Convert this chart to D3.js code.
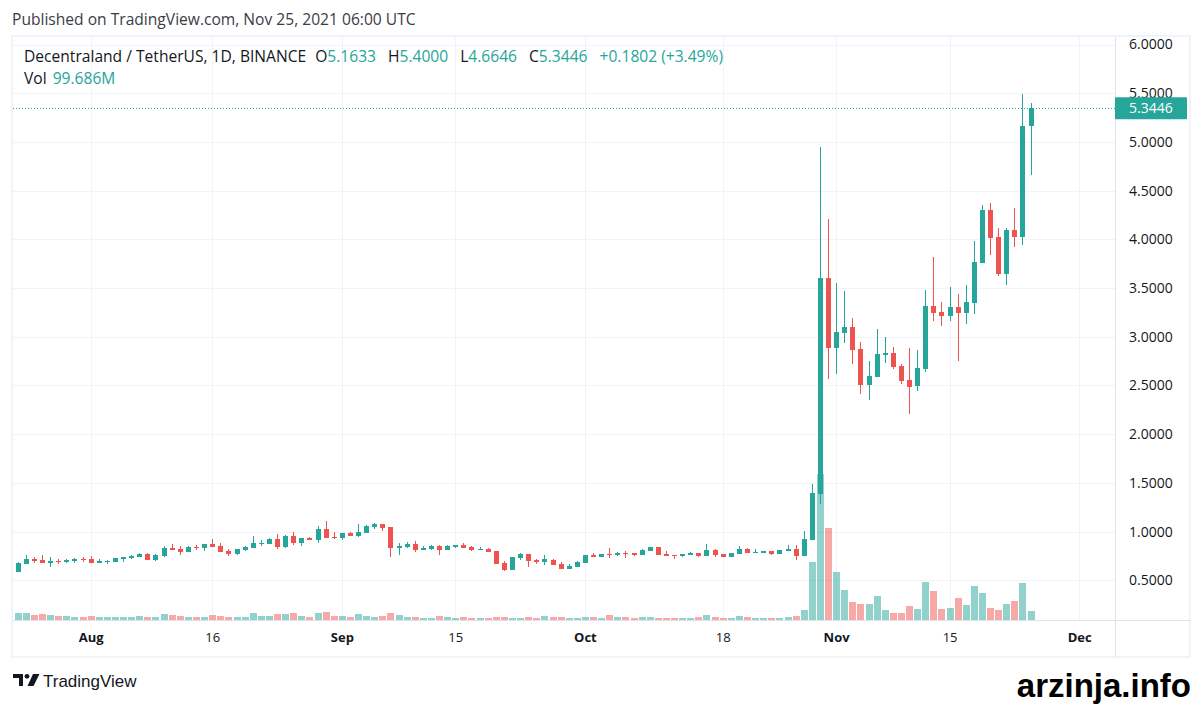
<!DOCTYPE html>
<html>
<head>
<meta charset="UTF-8">
<title>MANAUSDT 1D</title>
<script src="https://d3js.org/d3.v7.min.js"></script>
<style>
  body { margin: 0; background: #fff; }
  svg text { font-family: "Open Sans", "Liberation Sans", Arial, sans-serif; }
  svg text.arial { font-family: "Liberation Sans", Arial, sans-serif; }
</style>
</head>
<body>
<div class="canvas"></div>
<script>
  // daily candles, Binance MANA/USDT, from Jul 23 to Nov 25 2021
  const firstDay = '2021-07-23'
  const opens = [
    0.588, 0.670, 0.718, 0.707, 0.680, 0.700, 0.687, 0.697, 0.714, 0.718,
    0.680, 0.687, 0.690, 0.718, 0.728, 0.738, 0.769, 0.707, 0.748, 0.830,
    0.820, 0.790, 0.840, 0.830, 0.871, 0.850, 0.800, 0.769, 0.810, 0.830,
    0.871, 0.871, 0.920, 0.840, 0.952, 0.880, 0.932, 0.910, 1.024, 0.942,
    0.932, 0.983, 0.952, 0.983, 1.044, 1.075, 1.044, 0.830, 0.840, 0.871,
    0.810, 0.820, 0.850, 0.810, 0.840, 0.860, 0.840, 0.810, 0.820, 0.800,
    0.677, 0.605, 0.728, 0.769, 0.707, 0.687, 0.707, 0.667, 0.616, 0.636,
    0.677, 0.758, 0.738, 0.769, 0.758, 0.780, 0.779, 0.758, 0.800, 0.840,
    0.769, 0.758, 0.748, 0.758, 0.779, 0.748, 0.810, 0.769, 0.738, 0.769,
    0.820, 0.779, 0.779, 0.800, 0.769, 0.800, 0.826, 0.754, 0.918, 1.389,
    3.601, 2.884, 3.038, 3.099, 2.874, 2.505, 2.587, 2.812, 2.833, 2.700,
    2.556, 2.495, 2.669, 3.314, 3.253, 3.212, 3.304, 3.242, 3.345, 3.754,
    4.297, 4.020, 3.642, 4.092, 4.024, 5.1633
  ]
  const highs = [
    0.690, 0.758, 0.738, 0.758, 0.738, 0.720, 0.718, 0.730, 0.738, 0.748,
    0.718, 0.707, 0.728, 0.738, 0.758, 0.779, 0.779, 0.769, 0.850, 0.871,
    0.850, 0.850, 0.860, 0.871, 0.920, 0.880, 0.820, 0.820, 0.850, 0.952,
    0.910, 0.932, 0.973, 0.963, 0.993, 0.932, 0.942, 1.054, 1.105, 0.993,
    0.983, 0.993, 1.075, 1.065, 1.085, 1.075, 1.044, 0.880, 0.891, 0.900,
    0.850, 0.860, 0.860, 0.860, 0.860, 0.880, 0.850, 0.840, 0.830, 0.800,
    0.697, 0.738, 0.779, 0.769, 0.718, 0.758, 0.718, 0.687, 0.667, 0.697,
    0.758, 0.779, 0.769, 0.830, 0.790, 0.800, 0.779, 0.820, 0.840, 0.840,
    0.800, 0.758, 0.769, 0.790, 0.779, 0.871, 0.820, 0.769, 0.779, 0.850,
    0.830, 0.820, 0.800, 0.800, 0.810, 0.860, 0.867, 1.010, 1.491, 4.952,
    4.205, 3.549, 3.468, 3.191, 2.945, 2.751, 3.078, 2.997, 2.894, 2.720,
    2.884, 2.863, 3.478, 3.816, 3.355, 3.509, 3.437, 3.529, 3.980, 4.348,
    4.369, 4.113, 4.113, 4.317, 5.490, 5.4000
  ]
  const lows = [
    0.585, 0.670, 0.680, 0.680, 0.640, 0.670, 0.677, 0.677, 0.687, 0.677,
    0.677, 0.670, 0.690, 0.687, 0.718, 0.738, 0.707, 0.697, 0.738, 0.810,
    0.758, 0.790, 0.810, 0.800, 0.840, 0.790, 0.748, 0.758, 0.800, 0.830,
    0.850, 0.871, 0.820, 0.830, 0.860, 0.850, 0.910, 0.880, 0.932, 0.920,
    0.910, 0.952, 0.942, 0.983, 1.024, 1.003, 0.738, 0.758, 0.830, 0.790,
    0.810, 0.810, 0.758, 0.810, 0.830, 0.830, 0.800, 0.810, 0.790, 0.667,
    0.595, 0.605, 0.707, 0.636, 0.667, 0.656, 0.656, 0.616, 0.616, 0.636,
    0.677, 0.738, 0.738, 0.728, 0.748, 0.728, 0.748, 0.758, 0.800, 0.758,
    0.748, 0.718, 0.738, 0.758, 0.738, 0.748, 0.738, 0.738, 0.738, 0.769,
    0.779, 0.779, 0.779, 0.758, 0.769, 0.800, 0.713, 0.754, 0.918, 1.287,
    2.567, 2.618, 2.935, 2.720, 2.413, 2.352, 2.587, 2.730, 2.669, 2.515,
    2.208, 2.444, 2.638, 3.160, 3.109, 3.160, 2.751, 3.130, 3.232, 3.754,
    3.836, 3.621, 3.529, 3.918, 3.942, 4.6646
  ]
  const closes = [
    0.680, 0.718, 0.697, 0.680, 0.697, 0.690, 0.707, 0.718, 0.704, 0.677,
    0.697, 0.697, 0.728, 0.738, 0.748, 0.769, 0.707, 0.758, 0.830, 0.810,
    0.790, 0.840, 0.830, 0.871, 0.840, 0.790, 0.769, 0.820, 0.840, 0.880,
    0.880, 0.920, 0.840, 0.952, 0.880, 0.932, 0.910, 1.024, 0.932, 0.932,
    0.983, 0.952, 0.993, 1.054, 1.075, 1.034, 0.830, 0.850, 0.871, 0.810,
    0.830, 0.850, 0.810, 0.850, 0.860, 0.830, 0.810, 0.820, 0.790, 0.667,
    0.605, 0.738, 0.769, 0.697, 0.687, 0.718, 0.656, 0.616, 0.646, 0.687,
    0.758, 0.738, 0.769, 0.758, 0.779, 0.772, 0.758, 0.810, 0.840, 0.758,
    0.748, 0.748, 0.769, 0.779, 0.748, 0.810, 0.758, 0.738, 0.779, 0.820,
    0.779, 0.790, 0.800, 0.769, 0.810, 0.820, 0.754, 0.928, 1.399, 3.601,
    2.884, 3.048, 3.099, 2.863, 2.505, 2.597, 2.823, 2.833, 2.689, 2.546,
    2.485, 2.679, 3.314, 3.242, 3.212, 3.304, 3.242, 3.355, 3.765, 4.297,
    4.010, 3.642, 4.092, 4.020, 5.1644, 5.3446
  ]
  // volume in millions of MANA
  const volumes = [
    78, 78, 55, 66, 55, 44, 44, 33, 33, 44,
    33, 33, 33, 33, 33, 44, 33, 33, 66, 55,
    44, 33, 33, 33, 55, 44, 33, 33, 33, 78,
    44, 44, 66, 66, 78, 44, 33, 78, 89, 44,
    44, 33, 66, 44, 33, 44, 78, 55, 33, 33,
    22, 22, 44, 33, 22, 33, 22, 22, 22, 33,
    33, 22, 22, 33, 22, 44, 33, 33, 22, 22,
    33, 33, 22, 55, 33, 33, 22, 33, 33, 22,
    22, 22, 22, 22, 33, 55, 33, 22, 22, 44,
    33, 22, 22, 22, 22, 33, 44, 111, 643, 1618,
    1019, 532, 332, 199, 177, 177, 266, 111, 78, 78,
    155, 122, 421, 321, 122, 133, 244, 166, 377, 299,
    133, 111, 177, 211, 410, 99.686
  ]
  const tickDates = ['2021-08-01', '2021-08-16', '2021-09-01', '2021-09-15', '2021-10-01',
    '2021-10-18', '2021-11-01', '2021-11-15', '2021-12-01']
  const tickLabels = ['Aug', '16', 'Sep', '15', 'Oct', '18', 'Nov', '15', 'Dec']
  const priceTicks = [0.5, 1.0, 1.5, 2.0, 2.5, 3.0, 3.5, 4.0, 4.5, 5.0, 5.5, 6.0]

  const up = '#26a69a', down = '#ef5350'
  const upVol = 'rgba(38,166,154,0.5)', downVol = 'rgba(239,83,80,0.5)'
  const grid = '#f0f3fa', border = '#e0e3eb', ink = '#131722'

  const pane = { left: 13, right: 1115, top: 37, bottom: 620 }
  const frameRight = 1190, frameBottom = 657

  const days = d3.utcDay.range(new Date(firstDay), d3.utcDay.offset(new Date(firstDay), opens.length))
  const bars = days.map((d, i) => ({
    date: d, o: opens[i], h: highs[i], l: lows[i], c: closes[i], v: volumes[i]
  }))
  const last = bars[bars.length - 1]
  const prev = bars[bars.length - 2]

  const svg = d3.select('.canvas')
    .append('svg')
    .attr('width', 1203)
    .attr('height', 704)

  // visible window: Jul 22 to Dec 5
  const x = d3.scaleUtc()
    .domain([new Date('2021-07-22T10:00:00Z'), new Date('2021-12-05T10:00:00Z')])
    .range([pane.left, pane.right])
  const y = d3.scaleLinear()
    .domain([0.5, 6])
    .range([580.3, 44.5])
  // volume overlay uses the lower quarter of the pane
  const yVol = d3.scaleLinear()
    .domain([0, d3.max(volumes)])
    .range([pane.bottom, pane.bottom - (pane.bottom - pane.top) * 0.25])

  svg.append('defs').append('clipPath').attr('id', 'pane')
    .append('rect')
    .attr('x', pane.left).attr('y', pane.top)
    .attr('width', pane.right - pane.left).attr('height', pane.bottom - pane.top)

  // grid
  const g = svg.append('g').attr('clip-path', 'url(#pane)')
  g.selectAll('.hgrid')
    .data(priceTicks)
    .enter().append('line')
    .attr('x1', pane.left).attr('x2', pane.right)
    .attr('y1', d => Math.round(y(d)) + 0.5).attr('y2', d => Math.round(y(d)) + 0.5)
    .attr('stroke', grid)
  g.selectAll('.vgrid')
    .data(tickDates)
    .enter().append('line')
    .attr('x1', d => Math.round(x(new Date(d))) + 0.5).attr('x2', d => Math.round(x(new Date(d))) + 0.5)
    .attr('y1', pane.top).attr('y2', pane.bottom)
    .attr('stroke', grid)

  // volume
  g.selectAll('.vol')
    .data(bars)
    .enter().append('rect')
    .attr('x', d => Math.round(x(d.date)) - 3)
    .attr('width', 7)
    .attr('y', d => yVol(d.v))
    .attr('height', d => pane.bottom - yVol(d.v))
    .attr('fill', d => d.c >= d.o ? upVol : downVol)
    .attr('shape-rendering', 'crispEdges')

  // candles
  const candle = g.selectAll('.candle')
    .data(bars)
    .enter().append('g')
    .attr('fill', d => d.c >= d.o ? up : down)
    .attr('shape-rendering', 'crispEdges')
  candle.append('rect')
    .attr('x', d => Math.round(x(d.date)))
    .attr('width', 1)
    .attr('y', d => y(d.h))
    .attr('height', d => y(d.l) - y(d.h))
  candle.append('rect')
    .attr('x', d => Math.round(x(d.date)) - 2)
    .attr('width', 5)
    .attr('y', d => y(Math.max(d.o, d.c)))
    .attr('height', d => Math.max(1, Math.abs(y(d.o) - y(d.c))))

  // last price line
  svg.append('line')
    .attr('x1', pane.left).attr('x2', pane.right)
    .attr('y1', Math.round(y(last.c)) + 0.5).attr('y2', Math.round(y(last.c)) + 0.5)
    .attr('stroke', up)
    .attr('stroke-dasharray', '1,2')

  // frame
  svg.append('rect')
    .attr('x', 12).attr('y', 36)
    .attr('width', frameRight - 12).attr('height', frameBottom - 36)
    .attr('fill', 'none').attr('stroke', grid).attr('stroke-width', 2)
  svg.append('line')
    .attr('x1', 13).attr('x2', frameRight).attr('y1', pane.bottom + 0.5).attr('y2', pane.bottom + 0.5)
    .attr('stroke', border)
  svg.append('line')
    .attr('x1', pane.right + 0.5).attr('x2', pane.right + 0.5).attr('y1', 37).attr('y2', frameBottom)
    .attr('stroke', border)

  // price axis
  const yAxis = svg.append('g')
    .attr('transform', `translate(${pane.right},0)`)
    .call(d3.axisRight(y).tickValues(priceTicks).tickFormat(d3.format('.4f')).tickSize(0).tickPadding(14))
  yAxis.select('.domain').remove()
  yAxis.selectAll('text')
    .attr('font-size', 14)
    .attr('fill', ink)

  // price label (covers part of the 5.5000 tick, as on the original)
  const tag = svg.append('g').attr('transform', `translate(${pane.right},${y(last.c)})`)
  tag.append('rect')
    .attr('x', 0).attr('y', -11).attr('width', 72).attr('height', 22).attr('rx', 1)
    .attr('fill', up)
  tag.append('text')
    .attr('x', 14).attr('y', 0).attr('dy', '0.35em')
    .attr('font-size', 14).attr('fill', '#fff')
    .text(d3.format('.4f')(last.c))

  // time axis
  const xAxis = svg.append('g')
    .attr('transform', `translate(0,${pane.bottom})`)
    .call(d3.axisBottom(x)
      .tickValues(tickDates.map(d => new Date(d)))
      .tickFormat((d, i) => tickLabels[i])
      .tickSize(0).tickPadding(13))
  xAxis.select('.domain').remove()
  xAxis.selectAll('text')
    .attr('font-size', 13)
    .attr('fill', ink)
    .attr('font-weight', (d, i) => isNaN(+tickLabels[i]) ? 'bold' : 'normal')

  // header
  svg.append('text')
    .attr('x', 12).attr('y', 25)
    .attr('font-size', 15.6).attr('fill', '#3a3d46')
    .text('Published on TradingView.com, Nov 25, 2021 06:00 UTC')

  const chg = last.c - prev.c
  const legend = svg.append('text')
    .attr('x', 24).attr('y', 62)
    .attr('font-size', 15.6).attr('fill', ink)
  legend.append('tspan').text('Decentraland / TetherUS, 1D, BINANCE')
  const fields = [['O', last.o], ['H', last.h], ['L', last.l], ['C', last.c]]
  fields.forEach(([k, v], i) => {
    legend.append('tspan').attr('dx', i === 0 ? 9 : 12).text(k)
    legend.append('tspan').attr('fill', up).text(d3.format('.4f')(v))
  })
  legend.append('tspan').attr('dx', 12).attr('fill', up)
    .text(`+${d3.format('.4f')(chg)} (+${d3.format('.2f')(chg / prev.c * 100)}%)`)

  const volText = svg.append('text')
    .attr('x', 24).attr('y', 84)
    .attr('font-size', 15.6).attr('fill', ink)
  volText.append('tspan').text('Vol')
  volText.append('tspan').attr('dx', 6).attr('fill', up).text(d3.format('.3f')(last.v) + 'M')

  // TradingView logo
  const logo = svg.append('g').attr('fill', ink)
  logo.append('path').attr('d', 'M13,674 H23 V686 H19 V678 H13 Z')
  logo.append('circle').attr('cx', 27).attr('cy', 676.3).attr('r', 2.4)
  logo.append('path').attr('d', 'M33,674 H39.5 L33.5,686 H27.5 Z')
  logo.append('text')
    .attr('class', 'arial')
    .attr('x', 43).attr('y', 687)
    .attr('font-size', 17).attr('fill', ink)
    .text('TradingView')

  // watermark
  svg.append('text')
    .attr('class', 'arial')
    .attr('x', 1191).attr('y', 697)
    .attr('text-anchor', 'end')
    .attr('font-size', 33).attr('font-weight', 'bold').attr('fill', '#000')
    .text('arzinja.info')
</script>
</body>
</html>
